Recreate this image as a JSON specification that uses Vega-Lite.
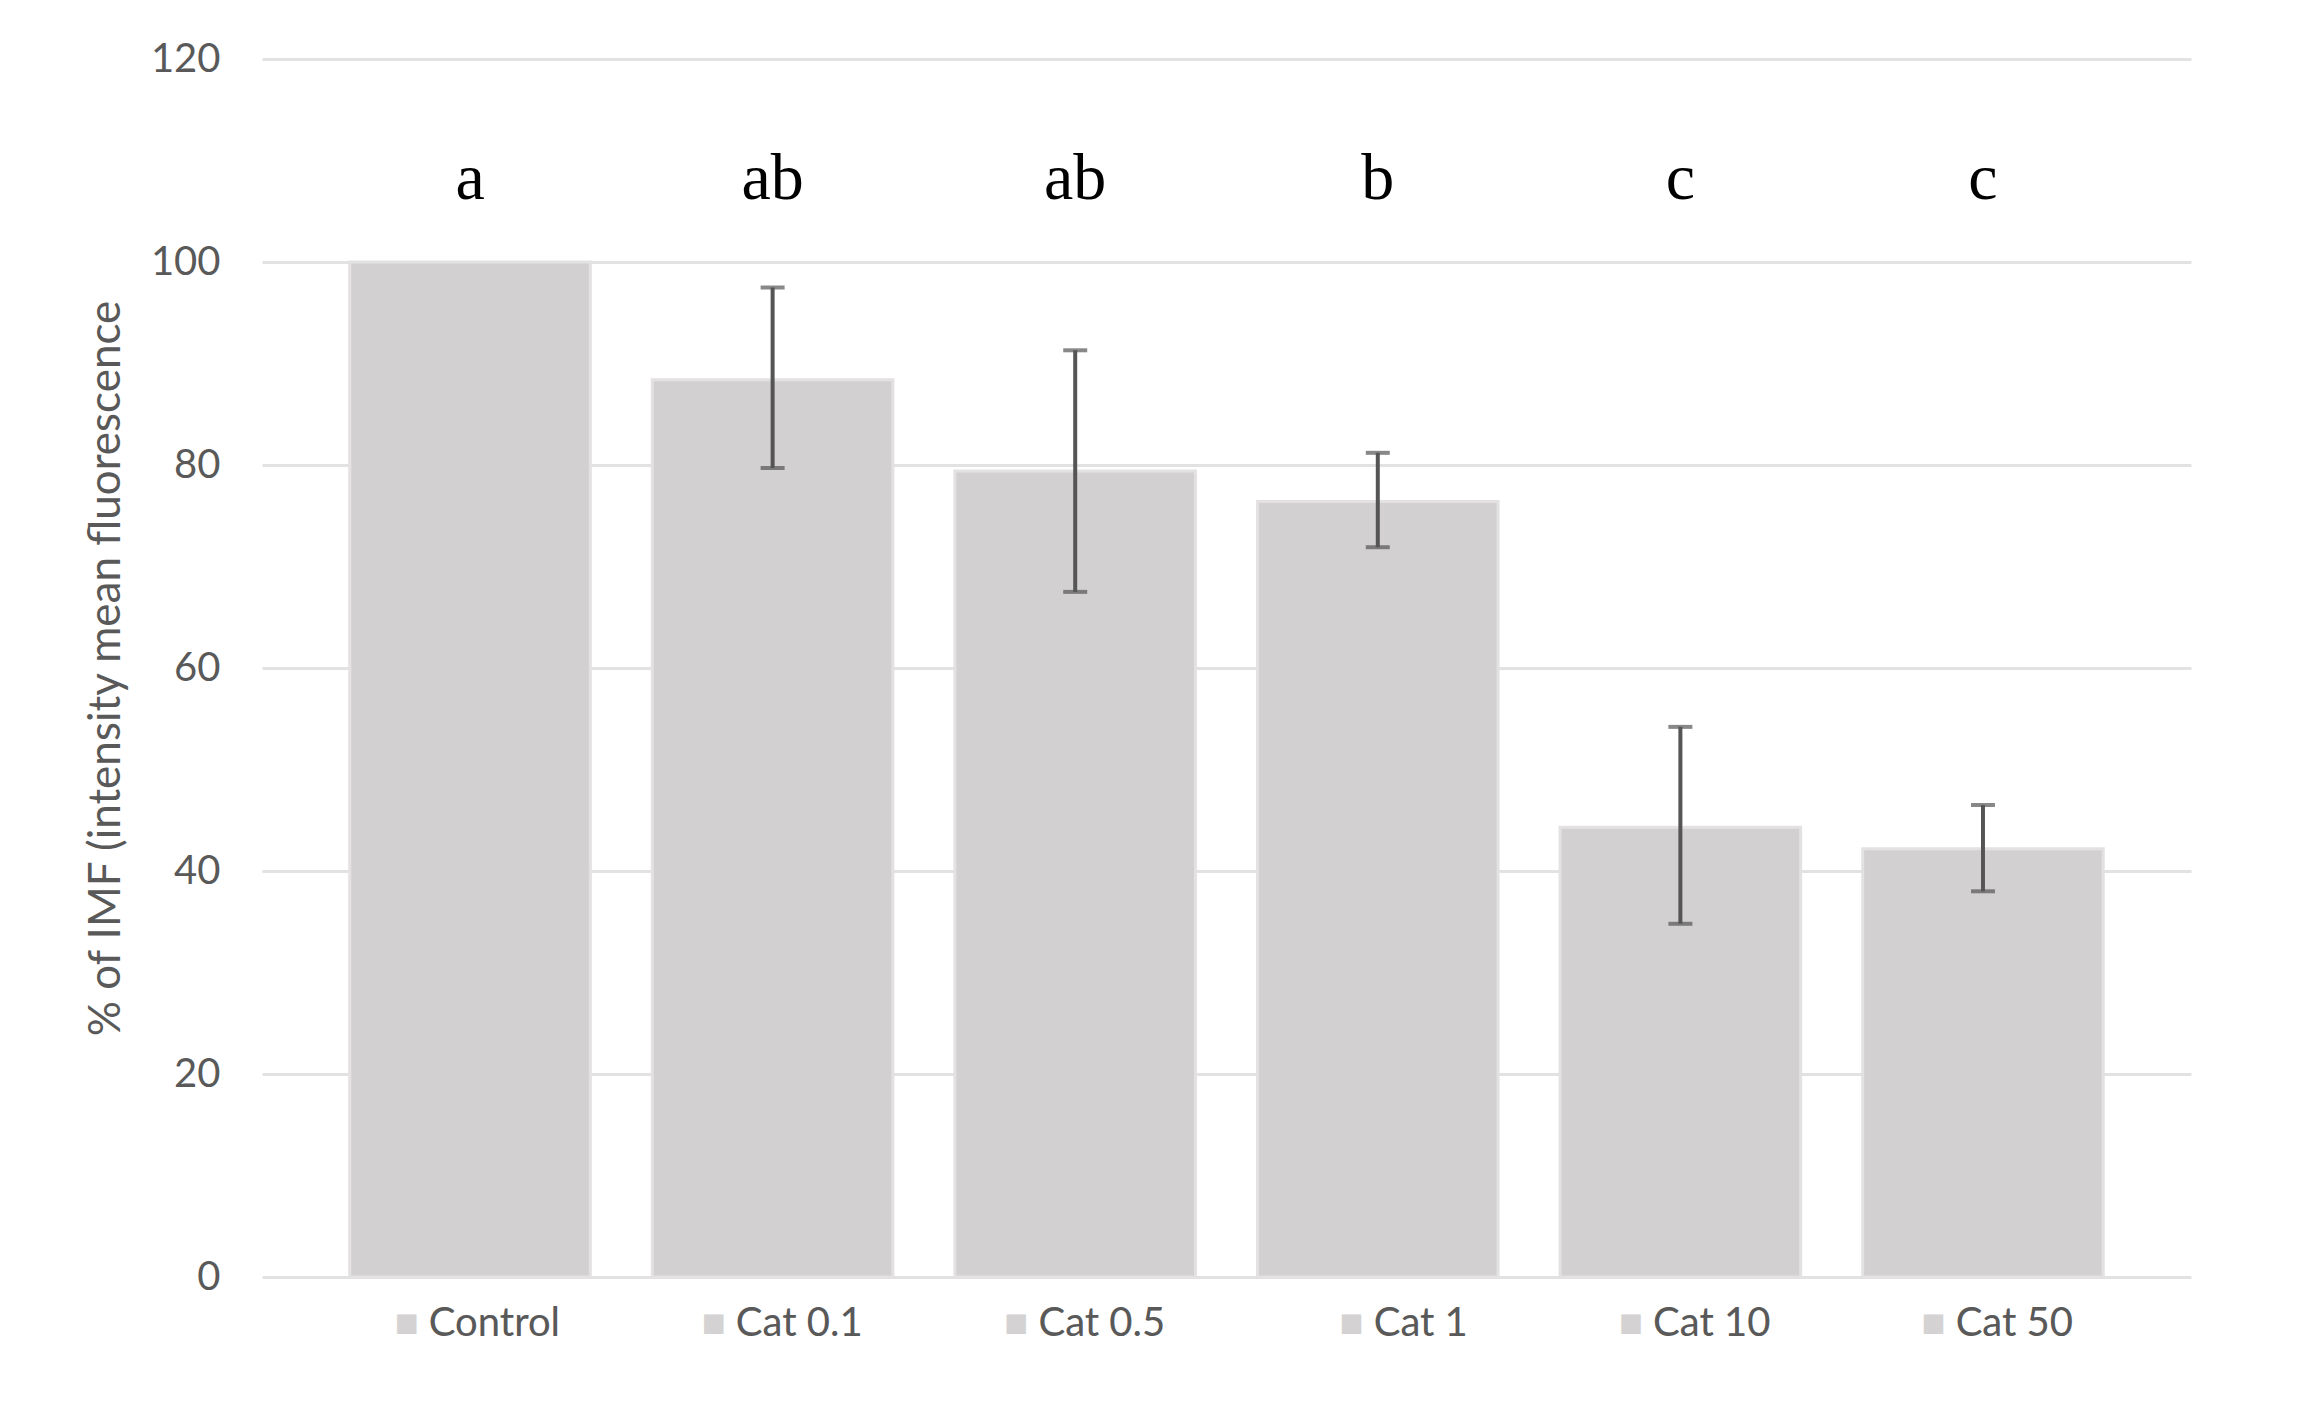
{
  "$schema": "https://vega.github.io/schema/vega-lite/v6.json",
  "width": 1929,
  "height": 1218,
  "autosize": {"type": "none"},
  "padding": {"left": 262, "top": 59, "right": 115, "bottom": 125},
  "background": "white",
  "config": {"view": {"stroke": null}, "font": "Lato"},
  "data": {"values": [
    {"cat": "Control", "value": 100, "lo": null, "hi": null, "letter": "a"},
    {"cat": "Cat 0.1", "value": 88.4, "lo": 79.7, "hi": 97.5, "letter": "ab"},
    {"cat": "Cat 0.5", "value": 79.4, "lo": 67.5, "hi": 91.3, "letter": "ab"},
    {"cat": "Cat 1", "value": 76.4, "lo": 71.9, "hi": 81.2, "letter": "b"},
    {"cat": "Cat 10", "value": 44.3, "lo": 34.8, "hi": 54.2, "letter": "c"},
    {"cat": "Cat 50", "value": 42.2, "lo": 38.0, "hi": 46.5, "letter": "c"}
  ]},
  "encoding": {
    "x": {"field": "cat", "type": "nominal", "sort": null,
      "scale": {"paddingInner": 0.205, "paddingOuter": 0.29},
      "axis": null}
  },
  "layer": [
    {
      "mark": {"type": "bar", "color": "#d3d0d1", "stroke": "#e3e1e1", "strokeWidth": 3},
      "encoding": {
        "y": {"field": "value", "type": "quantitative",
          "scale": {"domain": [0, 120]},
          "title": "% of IMF (intensity mean fluorescence",
          "axis": {"values": [0, 20, 40, 60, 80, 100, 120], "domain": false, "ticks": false,
            "gridColor": "#e2e2e2", "gridWidth": 3,
            "labelFont": "Lato", "labelFontSize": 40, "labelColor": "#595959", "labelPadding": 42,
            "titleFont": "Lato", "titleFontSize": 44, "titleFontWeight": "normal", "titleColor": "#595959",
            "titlePadding": 22}}
      }
    },
    {
      "transform": [{"filter": "datum.lo != null"}],
      "mark": {"type": "errorbar", "ticks": {"size": 24, "thickness": 4, "color": "#555555"}, "rule": {"strokeWidth": 4, "color": "#555555"}},
      "encoding": {
        "y": {"field": "lo", "type": "quantitative", "title": "% of IMF (intensity mean fluorescence"},
        "y2": {"field": "hi"}
      }
    },
    {
      "mark": {"type": "text", "font": "Liberation Serif", "fontSize": 66, "color": "#000000", "baseline": "alphabetic", "align": "center"},
      "encoding": {
        "y": {"datum": 106.2},
        "text": {"field": "letter"}
      }
    },
    {
      "mark": {"type": "text", "font": "Lato", "fontSize": 40, "color": "#d4d2d2", "align": "right", "baseline": "middle", "dx": 90, "dy": 47,
        "text": {"expr": "'■ ' + datum.cat"}},
      "encoding": {
        "y": {"datum": 0}
      }
    },
    {
      "mark": {"type": "text", "font": "Lato", "fontSize": 40, "color": "#595959", "align": "right", "baseline": "middle", "dx": 90, "dy": 47},
      "encoding": {
        "y": {"datum": 0},
        "text": {"field": "cat"}
      }
    }
  ]
}
